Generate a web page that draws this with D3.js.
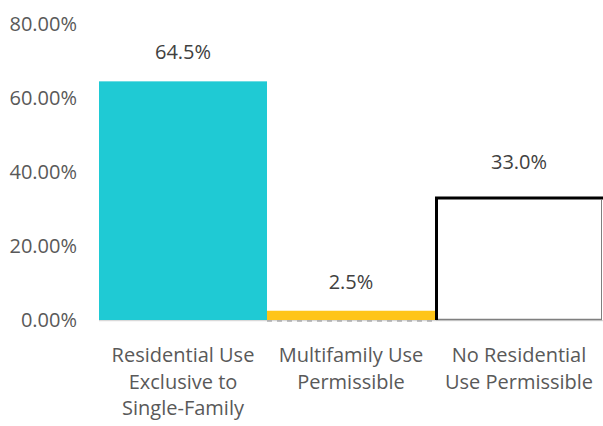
<!DOCTYPE html>
<html>
<head>
<meta charset="utf-8">
<script src="https://cdn.jsdelivr.net/npm/d3@7"></script>
<style>
  html, body { margin: 0; padding: 0; background: #fff; }
  svg { display: block; }
  text { font-family: "Open Sans", "Liberation Sans", sans-serif; }
</style>
</head>
<body>
<svg id="chart" width="603" height="426"></svg>
<script>
// Share of land area by residential zoning type
const categories = [
  "Residential Use Exclusive to Single-Family",
  "Multifamily Use Permissible",
  "No Residential Use Permissible"
];
const categoryLines = [
  ["Residential Use", "Exclusive to", "Single-Family"],
  ["Multifamily Use", "Permissible"],
  ["No Residential", "Use Permissible"]
];
const values = [64.5, 2.5, 33.0];
const barFills = ["#1fcad4", "#ffc518", "#ffffff"];
const yTicks = [0, 20, 40, 60, 80];

const W = 603, H = 426;
const FONT = "20px";
const svg = d3.select("#chart");

const x = d3.scaleBand().domain(categories).range([99, 603]).padding(0);
const y = d3.scaleLinear().domain([0, 80]).range([320, 24]);

// Y axis labels (no axis line or gridlines)
const yAxis = d3.axisLeft(y).tickValues(yTicks)
  .tickFormat(d => d.toFixed(2) + "%").tickSize(0).tickPadding(0);
const gy = svg.append("g").attr("transform", "translate(77,0)").call(yAxis);
gy.select(".domain").remove();
gy.selectAll("text")
  .attr("fill", "#595959").style("font-size", FONT)
  .attr("font-family", null);

const plot = svg.append("g");
plot.append("clipPath").attr("id", "clip")
  .append("rect").attr("x", 0).attr("y", 0).attr("width", W).attr("height", H);

// Baseline
plot.append("line")
  .attr("x1", x.range()[0]).attr("x2", x.range()[1])
  .attr("y1", y(0) + 0.5).attr("y2", y(0) + 0.5)
  .attr("stroke", "#d9d9d9").attr("stroke-width", 1.5);

const bars = plot.append("g").attr("clip-path", "url(#clip)");
categories.forEach((c, i) => {
  const x0 = x(c), bw = x.bandwidth();
  const top = y(values[i]), base = y(0);
  bars.append("rect")
    .attr("x", x0).attr("y", top)
    .attr("width", bw).attr("height", base - top)
    .attr("fill", barFills[i]);
  if (i === 1) {
    // dashed outline along the base of the small bar
    bars.append("line")
      .attr("x1", x0).attr("x2", x0 + bw)
      .attr("y1", base + 1).attr("y2", base + 1)
      .attr("stroke", "#8a8a8a").attr("stroke-width", 1)
      .attr("stroke-dasharray", "5,5");
  }
  if (i === 2) {
    // outlined bar: heavy black left side and top (right side runs past the edge), grey base
    bars.append("line")
      .attr("x1", x0 + 1).attr("x2", x0 + bw - 1)
      .attr("y1", base - 0.5).attr("y2", base - 0.5)
      .attr("stroke", "#7f7f7f").attr("stroke-width", 1.5);
    bars.append("path")
      .attr("d", `M${x0 + 1.5},${base} V${top} H${x0 + bw + 2} V${base}`)
      .attr("fill", "none").attr("stroke", "#000").attr("stroke-width", 3);
    bars.append("line")
      .attr("x1", x0 + bw - 1.5).attr("x2", x0 + bw - 1.5)
      .attr("y1", top + 1.5).attr("y2", base)
      .attr("stroke", "#7f7f7f").attr("stroke-width", 1);
  }
});

// Value labels
categories.forEach((c, i) => {
  const lift = i === 2 ? 36 : 29;
  svg.append("text")
    .attr("x", x(c) + x.bandwidth() / 2)
    .attr("y", y(values[i]) - lift)
    .attr("dy", "0.35em")
    .attr("text-anchor", "middle")
    .attr("fill", "#404040")
    .style("font-size", FONT)
    .text(values[i].toFixed(1) + "%");
});

// Category labels
categories.forEach((c, i) => {
  const t = svg.append("text")
    .attr("text-anchor", "middle")
    .attr("fill", "#595959")
    .style("font-size", FONT);
  categoryLines[i].forEach((line, k) => {
    t.append("tspan")
      .attr("x", x(c) + x.bandwidth() / 2)
      .attr("y", 355 + k * 26.5)
      .attr("dy", "0.35em")
      .text(line);
  });
});
</script>
</body>
</html>
